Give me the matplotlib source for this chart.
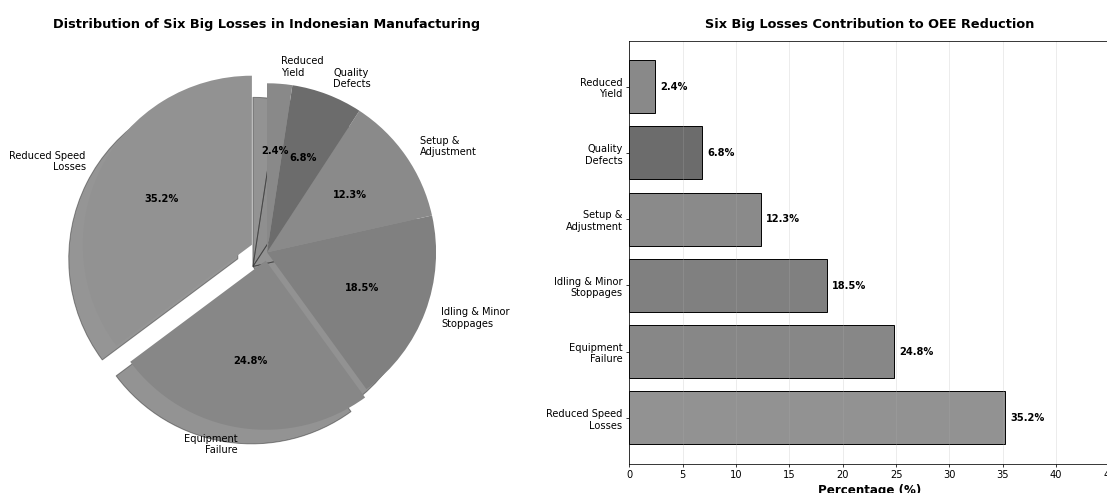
import matplotlib.pyplot as plt

losses = ["Reduced Speed\nLosses", "Equipment\nFailure", "Idling & Minor\nStoppages",
          "Setup &\nAdjustment", "Quality\nDefects", "Reduced\nYield"]
share = [35.2, 24.8, 18.5, 12.3, 6.8, 2.4]
explode = [0.1, 0.05, 0, 0, 0, 0]
greys = ["#929292", "#878787", "#808080", "#8a8a8a", "#6c6c6c", "#898989"]

dpi = 1107 / 16
plt.rcParams["font.size"] = 10.3
fig = plt.figure(figsize=(16, 7.126), dpi=dpi)

# pie of loss shares
ax1 = fig.add_axes([0.0503, 0.0594, 0.3818, 0.8574])
wedges, texts, autotexts = ax1.pie(
    share, labels=losses, explode=explode, colors=greys,
    autopct="%1.1f%%", startangle=90,
    shadow={"ox": -0.0867, "oy": -0.0867},
)
plt.setp(autotexts, fontweight="bold")
ax1.set_title("Distribution of Six Big Losses in Indonesian Manufacturing",
              fontsize=13.4, fontweight="bold", pad=13.8)

# horizontal bars of the same shares
ax2 = fig.add_axes([0.5685, 0.0594, 0.4338, 0.8574])
pos = range(len(share))
ax2.barh(pos, share, color=greys, edgecolor="black", linewidth=1)
ax2.set_yticks(pos, losses)
ax2.set_xlim(0, 45)
ax2.grid(axis="x", alpha=0.3)
for y, v in zip(pos, share):
    ax2.text(v + 0.5, y, f"{v}%", va="center", ha="left", fontweight="bold")
ax2.set_xlabel("Percentage (%)", fontsize=12.4, fontweight="bold")
ax2.set_title("Six Big Losses Contribution to OEE Reduction",
              fontsize=13.4, fontweight="bold", pad=13.8)

fig.savefig("out.png", dpi=dpi)
